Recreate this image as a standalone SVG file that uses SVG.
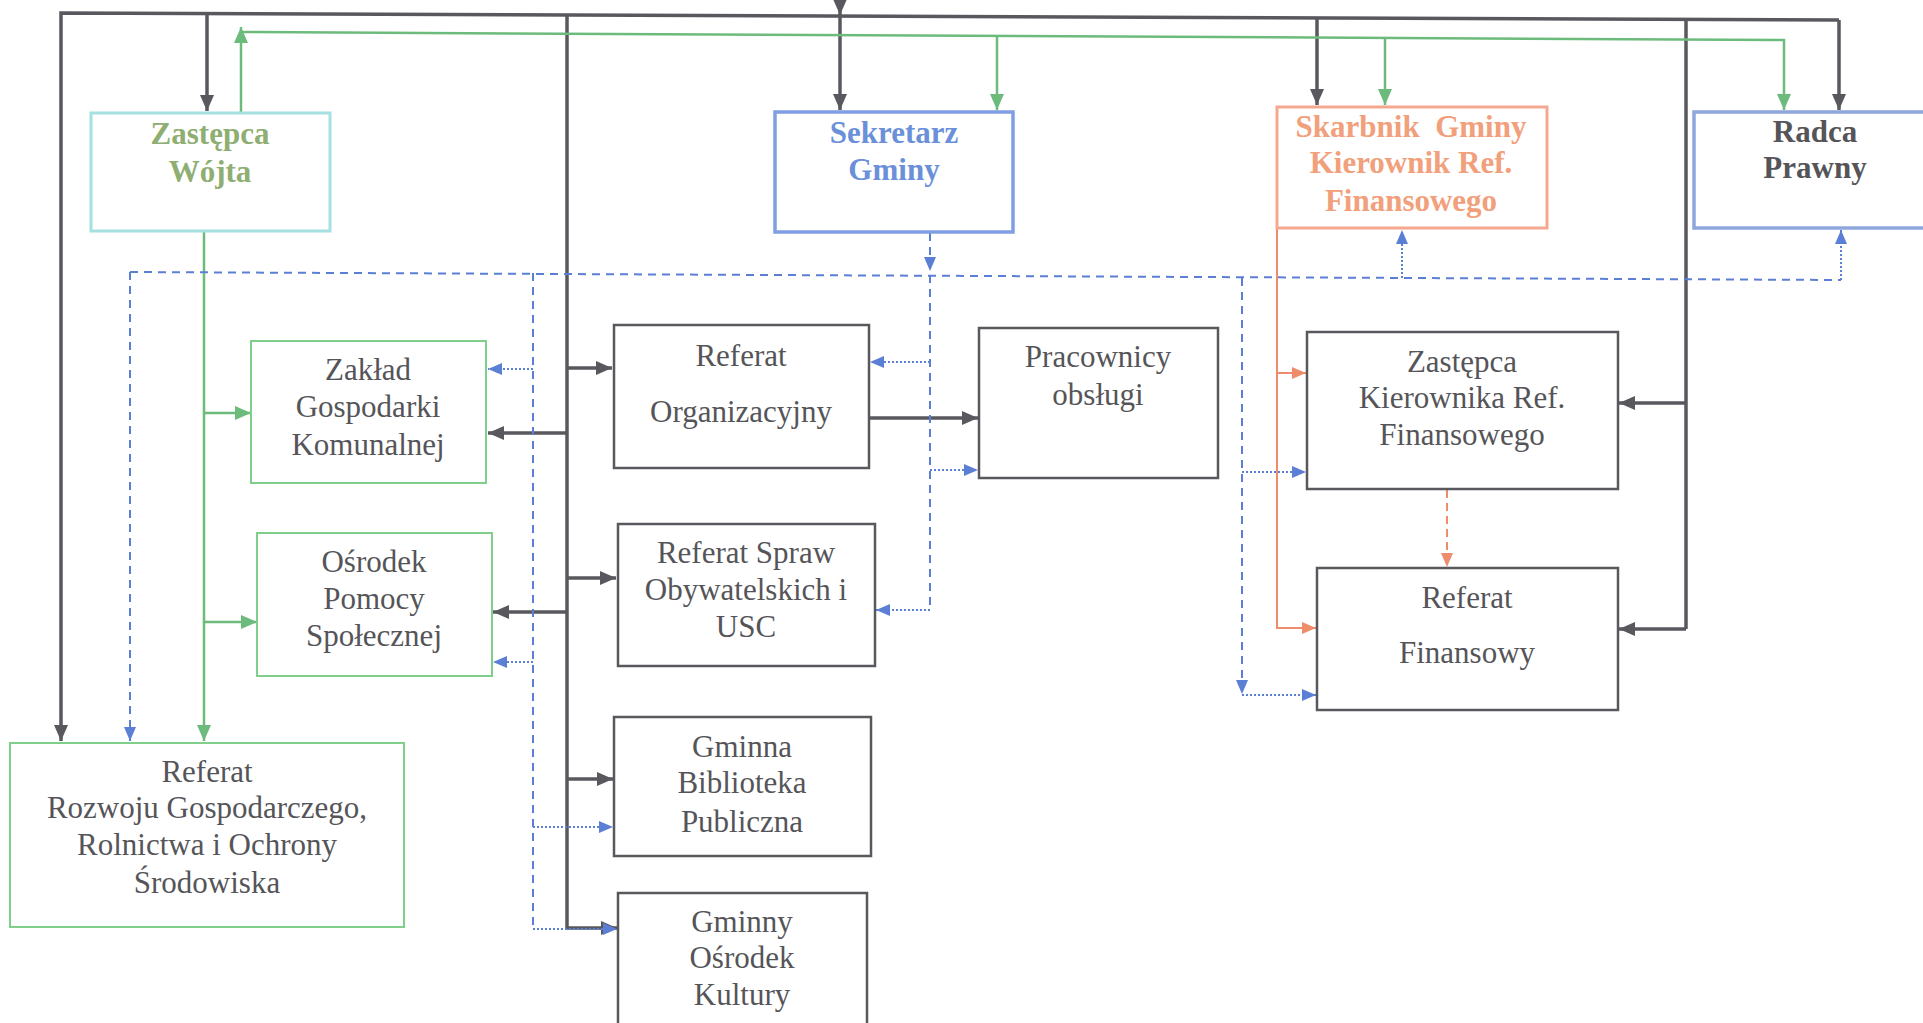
<svg xmlns="http://www.w3.org/2000/svg" width="1923" height="1023" viewBox="0 0 1923 1023">
<style>
text{font-family:"Liberation Serif","Times New Roman",serif;font-size:31px;fill:#555559;text-anchor:middle}
.b{font-weight:bold}
.box{fill:#fff;stroke:#58585e;stroke-width:2.5}
.gbox{fill:#fff;stroke:#7fcf8a;stroke-width:2}
.gr{fill:none;stroke:#58585e;stroke-width:3.5}
.gn{fill:none;stroke:#6dbb7c;stroke-width:2.5}
.bd{fill:none;stroke:#5b7fd5;stroke-width:2;stroke-dasharray:8 6}
.bt{fill:none;stroke:#5b7fd5;stroke-width:2;stroke-dasharray:2 2}
.or{fill:none;stroke:#ef8c6c;stroke-width:2}
.od{fill:none;stroke:#ef8c6c;stroke-width:2;stroke-dasharray:8 5}
</style>
<defs>
<marker id="ag" viewBox="0 0 16 14" refX="16" refY="7" markerWidth="16" markerHeight="14" orient="auto" markerUnits="userSpaceOnUse"><path d="M0,0 L16,7 L0,14 z" fill="#58585e"/></marker>
<marker id="an" viewBox="0 0 16 14" refX="16" refY="7" markerWidth="16" markerHeight="14" orient="auto" markerUnits="userSpaceOnUse"><path d="M0,0 L16,7 L0,14 z" fill="#6dbb7c"/></marker>
<marker id="ab" viewBox="0 0 14 12" refX="14" refY="6" markerWidth="14" markerHeight="12" orient="auto" markerUnits="userSpaceOnUse"><path d="M0,0 L14,6 L0,12 z" fill="#5b7fd5"/></marker>
<marker id="ao" viewBox="0 0 14 12" refX="14" refY="6" markerWidth="14" markerHeight="12" orient="auto" markerUnits="userSpaceOnUse"><path d="M0,0 L14,6 L0,12 z" fill="#ef8c6c"/></marker>
</defs>

<g id="connectors">
<!-- gray -->
<path class="gr" d="M1839,20 L61,13 L61,741" marker-end="url(#ag)"/>
<path class="gr" d="M1839,20 L1839,110" marker-end="url(#ag)"/>
<path class="gr" d="M207,14 L207,111" marker-end="url(#ag)"/>
<path class="gr" d="M840,-6 L840,15" marker-end="url(#ag)"/>
<path class="gr" d="M840,15 L840,110" marker-end="url(#ag)"/>
<path class="gr" d="M1317,19 L1317,105" marker-end="url(#ag)"/>
<path class="gr" d="M567,14 L567,928"/>
<path class="gr" d="M1686,19 L1686,629"/>
<path class="gr" d="M567,368 L612,368" marker-end="url(#ag)"/>
<path class="gr" d="M567,433 L488,433" marker-end="url(#ag)"/>
<path class="gr" d="M567,578 L616,578" marker-end="url(#ag)"/>
<path class="gr" d="M567,612 L493,612" marker-end="url(#ag)"/>
<path class="gr" d="M567,779 L613,779" marker-end="url(#ag)"/>
<path class="gr" d="M567,928 L617,928" marker-end="url(#ag)"/>
<path class="gr" d="M869,418 L978,418" marker-end="url(#ag)"/>
<path class="gr" d="M1686,403 L1619,403" marker-end="url(#ag)"/>
<path class="gr" d="M1686,629 L1619,629" marker-end="url(#ag)"/>
<!-- green -->
<path class="gn" d="M241,113 L241,27" marker-end="url(#an)"/>
<path class="gn" d="M241,32 L1784,40 L1784,110" marker-end="url(#an)"/>
<path class="gn" d="M997,36 L997,110" marker-end="url(#an)"/>
<path class="gn" d="M1385,39 L1385,105" marker-end="url(#an)"/>
<path class="gn" d="M204,231 L204,741" marker-end="url(#an)"/>
<path class="gn" d="M204,413 L251,413" marker-end="url(#an)"/>
<path class="gn" d="M204,622 L257,622" marker-end="url(#an)"/>
<!-- blue dashed -->
<path class="bd" d="M930,233 L930,271" marker-end="url(#ab)"/>
<path class="bd" d="M130,272 L1841,280"/>
<path class="bd" d="M130,272 L130,741" marker-end="url(#ab)"/>
<path class="bd" d="M533,273 L533,928"/>
<path class="bd" d="M930,275 L930,610"/>
<path class="bd" d="M1242,278 L1242,694" marker-end="url(#ab)"/>
<!-- blue dotted -->
<path class="bt" d="M533,369 L488,369" marker-end="url(#ab)"/>
<path class="bt" d="M533,662 L493,662" marker-end="url(#ab)"/>
<path class="bt" d="M533,827 L613,827" marker-end="url(#ab)"/>
<path class="bt" d="M533,929 L617,929" marker-end="url(#ab)"/>
<path class="bt" d="M930,362 L870,362" marker-end="url(#ab)"/>
<path class="bt" d="M930,470 L978,470" marker-end="url(#ab)"/>
<path class="bt" d="M930,610 L876,610" marker-end="url(#ab)"/>
<path class="bt" d="M1242,472 L1306,472" marker-end="url(#ab)"/>
<path class="bt" d="M1242,695 L1316,695" marker-end="url(#ab)"/>
<path class="bt" d="M1402,278 L1402,230" marker-end="url(#ab)"/>
<path class="bt" d="M1841,280 L1841,230" marker-end="url(#ab)"/>
<!-- orange -->
<path class="or" d="M1277,228 L1277,628 L1316,628" marker-end="url(#ao)"/>
<path class="or" d="M1277,373 L1306,373" marker-end="url(#ao)"/>
<path class="od" d="M1447,490 L1447,567" marker-end="url(#ao)"/>
</g>

<g id="zastepca-wojta">
<rect x="91" y="113" width="239" height="118" fill="#fff" stroke="#a6e0e0" stroke-width="3"/>
<text class="b" x="210" y="144" style="fill:#8fae72">Zastępca</text>
<text class="b" x="210" y="182" style="fill:#8fae72">Wójta</text>
</g>
<g id="sekretarz">
<rect x="775" y="112" width="238" height="120" fill="#fff" stroke="#809fe2" stroke-width="3.5"/>
<text class="b" x="894" y="143" style="fill:#6b90da">Sekretarz</text>
<text class="b" x="894" y="180" style="fill:#6b90da">Gminy</text>
</g>
<g id="skarbnik">
<rect x="1277" y="107" width="270" height="121" fill="#fff" stroke="#f4a890" stroke-width="3"/>
<text class="b" x="1411" y="137" style="fill:#f2a07c" xml:space="preserve">Skarbnik  Gminy</text>
<text class="b" x="1411" y="173" style="fill:#f2a07c">Kierownik Ref.</text>
<text class="b" x="1411" y="211" style="fill:#f2a07c">Finansowego</text>
</g>
<g id="radca">
<rect x="1694" y="112" width="240" height="116" fill="#fff" stroke="#8fa6dd" stroke-width="3.5"/>
<text class="b" x="1815" y="142">Radca</text>
<text class="b" x="1815" y="178">Prawny</text>
</g>
<g id="zaklad">
<rect class="gbox" x="251" y="341" width="235" height="142"/>
<text x="368" y="380">Zakład</text>
<text x="368" y="417">Gospodarki</text>
<text x="368" y="455">Komunalnej</text>
</g>
<g id="osrodek-pomocy">
<rect class="gbox" x="257" y="533" width="235" height="143"/>
<text x="374" y="572">Ośrodek</text>
<text x="374" y="609">Pomocy</text>
<text x="374" y="646">Społecznej</text>
</g>
<g id="referat-rozwoju">
<rect class="gbox" x="10" y="743" width="394" height="184"/>
<text x="207" y="782">Referat</text>
<text x="207" y="818">Rozwoju Gospodarczego,</text>
<text x="207" y="855">Rolnictwa i Ochrony</text>
<text x="207" y="893">Środowiska</text>
</g>
<g id="referat-organizacyjny">
<rect class="box" x="614" y="325" width="255" height="143"/>
<text x="741" y="366">Referat</text>
<text x="741" y="422">Organizacyjny</text>
</g>
<g id="pracownicy-obslugi">
<rect class="box" x="979" y="328" width="239" height="150"/>
<text x="1098" y="367">Pracownicy</text>
<text x="1098" y="405">obsługi</text>
</g>
<g id="referat-spraw">
<rect class="box" x="618" y="524" width="257" height="142"/>
<text x="746" y="563">Referat Spraw</text>
<text x="746" y="600">Obywatelskich i</text>
<text x="746" y="637">USC</text>
</g>
<g id="biblioteka">
<rect class="box" x="614" y="717" width="257" height="139"/>
<text x="742" y="757">Gminna</text>
<text x="742" y="793">Biblioteka</text>
<text x="742" y="832">Publiczna</text>
</g>
<g id="osrodek-kultury">
<rect class="box" x="618" y="893" width="249" height="145"/>
<text x="742" y="932">Gminny</text>
<text x="742" y="968">Ośrodek</text>
<text x="742" y="1005">Kultury</text>
</g>
<g id="zastepca-kierownika">
<rect class="box" x="1307" y="332" width="311" height="157"/>
<text x="1462" y="372">Zastępca</text>
<text x="1462" y="408">Kierownika Ref.</text>
<text x="1462" y="445">Finansowego</text>
</g>
<g id="referat-finansowy">
<rect class="box" x="1317" y="568" width="301" height="142"/>
<text x="1467" y="608">Referat</text>
<text x="1467" y="663">Finansowy</text>
</g>
</svg>
